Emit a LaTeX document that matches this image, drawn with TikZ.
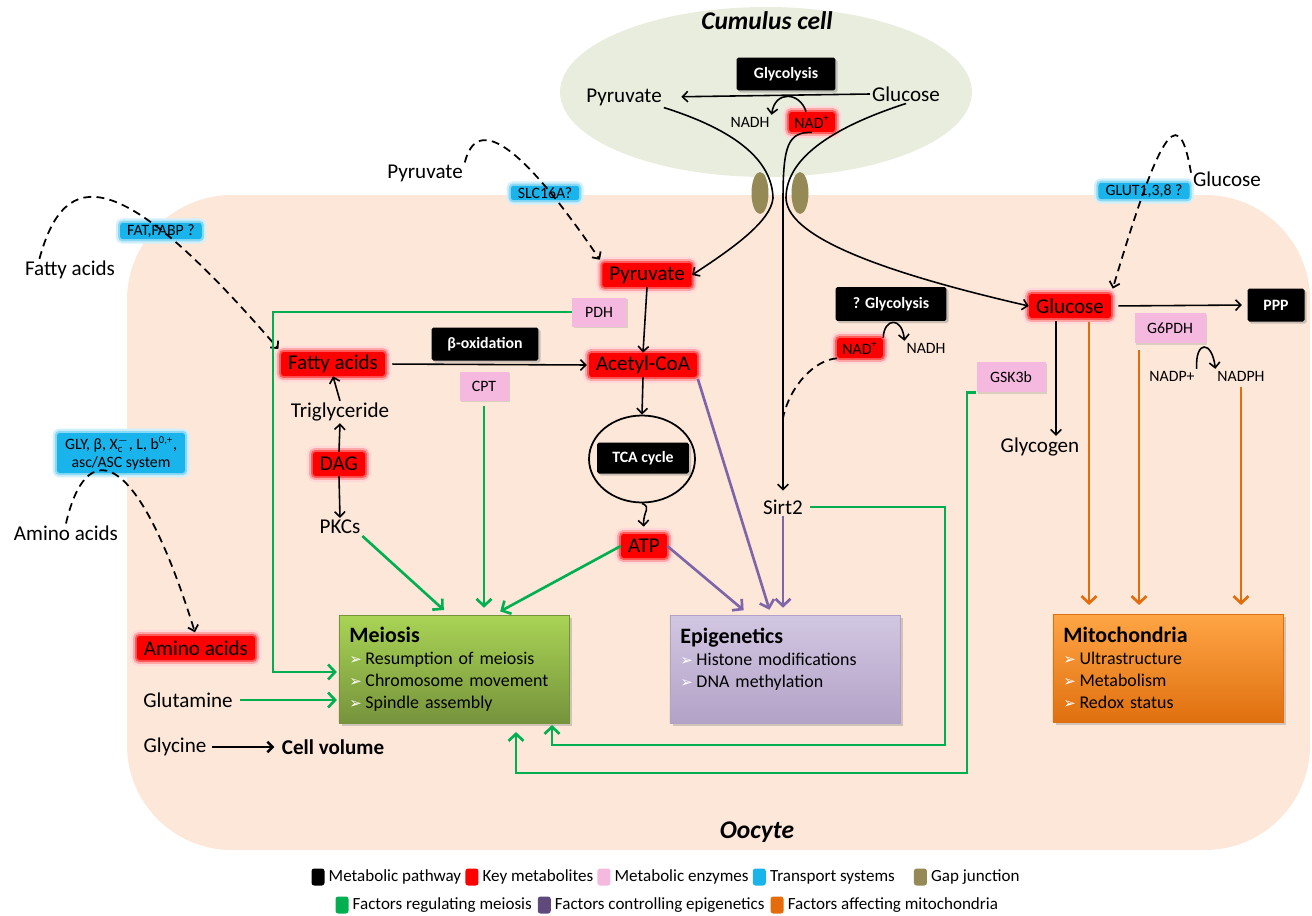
\documentclass[tikz,border=0pt]{standalone}
\usepackage{fontspec}
\setmainfont{Carlito}
\newfontfamily\dejavu{DejaVu Sans}
\usetikzlibrary{arrows.meta,calc,positioning,shapes.geometric,shadows}

\definecolor{cumulusbg}{HTML}{E9EDDD}
\definecolor{oocytebg}{HTML}{FCE7D8}
\definecolor{keyred}{HTML}{FF0000}
\definecolor{enzpink}{HTML}{F5B8DE}
\definecolor{transblue}{HTML}{19B4EC}
\definecolor{gapolive}{HTML}{958A55}
\definecolor{meiogreen}{HTML}{00B050}
\definecolor{epipurple}{HTML}{7E64A8}
\definecolor{legpurple}{HTML}{604A7B}
\definecolor{mitoorange}{HTML}{E46C0A}
\definecolor{meiotop}{HTML}{A9D455}
\definecolor{meiobot}{HTML}{76933C}
\definecolor{epitop}{HTML}{D2C7E2}
\definecolor{epibot}{HTML}{B3A2C7}
\definecolor{mitotop}{HTML}{FFA545}
\definecolor{mitobot}{HTML}{E0700F}

\newcommand{\itembul}{{\dejavu\color{white}\fontsize{8.5}{8.5}\selectfont ➢}\hspace{2pt}}

\begin{document}
\begin{tikzpicture}[x=0.02cm, y=-0.02cm,
  >={Straight Barb[length=3pt,width=6pt]},
  every node/.style={inner sep=1pt},
  bigtxt/.style={font=\fontsize{12}{14}\selectfont},
  smalltxt/.style={font=\fontsize{9}{10}\selectfont},
  metab/.style={fill=keyred, rounded corners=1.5pt, inner xsep=4pt, inner ysep=1.5pt,
    minimum height=0.48cm, font=\fontsize{12}{14}\selectfont,
    preaction={draw=keyred!15, line width=7pt},
    preaction={draw=keyred!35, line width=4.5pt},
    preaction={draw=keyred!65, line width=2.2pt}},
  metabsm/.style={metab, font=\fontsize{9}{10}\selectfont, minimum height=0.4cm, inner xsep=3pt},
  pathbox/.style={fill=black, text=white, font=\bfseries\fontsize{9}{10}\selectfont,
    rounded corners=1pt, minimum height=0.66cm,
    drop shadow={shadow xshift=1.2pt, shadow yshift=-1.2pt, opacity=0.4}},
  enzyme/.style={fill=enzpink, font=\fontsize{9}{10}\selectfont, minimum height=0.58cm,
    drop shadow={shadow xshift=1pt, shadow yshift=-1pt, opacity=0.25}},
  transport/.style={fill=transblue, font=\fontsize{9}{10}\selectfont, rounded corners=1.5pt,
    inner xsep=4pt, inner ysep=1pt,
    preaction={draw=transblue!20, line width=5pt},
    preaction={draw=transblue!50, line width=2.5pt}},
  gapjn/.style={ellipse, fill=gapolive, minimum width=0.34cm, minimum height=0.84cm, inner sep=0pt},
  flow/.style={->, line width=0.9pt},
  dashes/.style={line width=1pt, dash pattern=on 4.5pt off 3pt},
  uptake/.style={dashes, ->},
  colarrow/.style={->, >={Straight Barb[length=4pt,width=8.5pt]}, line width=1.5pt},
  meioline/.style={colarrow, meiogreen},
  epiline/.style={colarrow, epipurple},
  mitoline/.style={colarrow, mitoorange},
  effect/.style={line width=0.3pt, minimum width=4.6cm, minimum height=2.16cm, text width=119pt,
    inner xsep=6pt, align=left, font=\fontsize{10.2}{12.5}\selectfont,
    drop shadow={shadow xshift=1.5pt, shadow yshift=-1.5pt, opacity=0.35}},
  legsq/.style={minimum width=0.26cm, minimum height=0.34cm, inner sep=0pt, rounded corners=1.5pt},
  legtx/.style={font=\fontsize{9.7}{11}\selectfont, inner sep=0.5pt}
  ]
\useasboundingbox (0,0) rectangle (1312,916);

% cells
\fill[cumulusbg] (766,92) ellipse [x radius=4.12cm, y radius=1.7cm];
\fill[oocytebg, rounded corners=2.1cm] (127,195) rectangle (1310,850);

\node[font=\bfseries\itshape\fontsize{14.5}{16}\selectfont] (cumtitle) at (767,21) {Cumulus cell};
\node[font=\bfseries\itshape\fontsize{14.5}{16}\selectfont] (ootitle) at (757,832) {Oocyte};

% cumulus cell
\node[pathbox, minimum width=1.98cm] (cglyc) at (786,74) {Glycolysis};
\node[bigtxt] (cpyr) at (624,97) {Pyruvate};
\node[bigtxt] (cglc) at (906,94) {Glucose};
\node[smalltxt] (cnadh) at (750,122) {NADH};
\node[metabsm] (cnad) at (812,122) {NAD\textsuperscript{+}};
\node[gapjn] (gj1) at (760,193) {};
\node[gapjn] (gj2) at (800,193) {};

% outside and transporters
\node[bigtxt] (xpyr) at (425,173) {Pyruvate};
\node[transport] (slc) at (545,193) {SLC16A?};
\node[bigtxt] (xfa) at (70,270) {Fatty acids};
\node[transport] (fat) at (161,231) {FAT,FABP ?};
\node[bigtxt] (xglc) at (1227,179) {Glucose};
\node[transport] (glut) at (1144,191) {GLUT1,3,8 ?};
\node[bigtxt] (xaa) at (66,533) {Amino acids};
\node[transport, align=center, minimum width=2.56cm, minimum height=0.8cm] (aat) at (121,453)
  {GLY, β, $\mathrm{X}_\mathrm{c}^{-}$, L, b\textsuperscript{0,+},\\ asc/ASC system};

% oocyte
\node[metab] (opyr) at (647,275) {Pyruvate};
\node[enzyme, minimum width=1.08cm] (pdh) at (599,312) {PDH};
\node[metab] (acoa) at (643,365) {Acetyl-CoA};
\node[pathbox, minimum width=2.14cm] (boxid) at (485,344) {β-oxidation};
\node[metab] (ofa) at (333,364) {Fatty acids};
\node[enzyme, minimum width=0.98cm] (cpt) at (484,386) {CPT};
\node[bigtxt] (tg) at (340,412) {Triglyceride};
\node[metab] (dag) at (339,464) {DAG};
\node[bigtxt] (pkc) at (340,527) {PKCs};
\node[ellipse, draw, line width=1pt, minimum width=2.12cm, minimum height=1.74cm] (tca) at (642,459) {};
\node[pathbox, minimum width=1.84cm, minimum height=0.62cm] (tcab) at (643,458) {TCA cycle};
\node[metab] (atp) at (644,546) {ATP};
\node[bigtxt] (sirt2) at (783,507) {Sirt2};
\node[pathbox, minimum width=2.22cm, minimum height=0.68cm] (glyq) at (891,304) {? Glycolysis};
\node[metabsm] (onad) at (860,348) {NAD\textsuperscript{+}};
\node[smalltxt] (onadh) at (926,348) {NADH};
\node[metab] (oglc) at (1070,306) {Glucose};
\node[pathbox, minimum width=1.14cm] (ppp) at (1276,305) {PPP};
\node[enzyme, minimum width=1.42cm, minimum height=0.6cm] (g6pdh) at (1170,328) {G6PDH};
\node[smalltxt] (nadp) at (1172,376) {NADP+};
\node[smalltxt] (nadph) at (1241,376) {NADPH};
\node[enzyme, minimum width=1.38cm, minimum height=0.6cm] (gsk) at (1011,377) {GSK3b};
\node[bigtxt] (glycogen) at (1040,447) {Glycogen};
\node[metab] (oaa) at (196,648) {Amino acids};
\node[bigtxt] (gln) at (188,700) {Glutamine};
\node[bigtxt] (gly) at (175,747) {Glycine};
\node[bigtxt, font=\bfseries\fontsize{12}{14}\selectfont] (cv) at (333,747) {Cell volume};

% target boxes
\node[effect, top color=meiotop, bottom color=meiobot, draw=meiobot] (meio) at (454,669)
  {{\fontsize{12.5}{14}\selectfont\bfseries Meiosis}\\
   \itembul Resumption of meiosis\\ \itembul Chromosome movement\\ \itembul Spindle assembly};
\node[effect, top color=epitop, bottom color=epibot, draw=epibot] (epi) at (785,669)
  {{\fontsize{12.5}{14}\selectfont\bfseries Epigenetics}\\
   \itembul Histone modifications\\ \itembul DNA methylation\\ \mbox{}};
\node[effect, top color=mitotop, bottom color=mitobot, draw=mitobot] (mito) at (1168,668)
  {{\fontsize{12.5}{14}\selectfont\bfseries Mitochondria}\\
   \itembul Ultrastructure\\ \itembul Metabolism\\ \itembul Redox status};

% cumulus glycolysis and gap junction transfer
\coordinate (gjl) at (773,198);
\coordinate (gjr) at (786,198);
\coordinate (nadtop) at (783,200);
\draw[flow, shorten >=10pt] (cglc.west) -- (cpyr.east);
\draw[flow] (cnad.120) .. controls (800,92) and (775,90) .. (cnadh.north east);
\draw[flow] (cpyr.south east) .. controls (735,130) and (772,160) .. (gjl)
  .. controls (771,222) and (730,250) .. (opyr.east);
\draw[flow] (cglc.south) .. controls (818,132) and (786,165) .. (gjr)
  .. controls (787,230) and (850,265) .. (oglc.west);
\draw[flow, shorten >=4pt] (cnad.south) .. controls (788,132) and (783,145) .. (nadtop) -- (sirt2.north);

% uptake
\draw[uptake, shorten >=2pt] (xpyr.north east) .. controls (476,118) and (515,135) .. (opyr.north west);
\draw[uptake, shorten >=2pt] (xfa.160) .. controls (65,165) and (120,165) .. (ofa.north west);
\draw[uptake, shorten >=3pt] (xglc.170) .. controls (1180,110) and (1165,112) .. (oglc.north east);
\draw[uptake, shorten >=2pt] (xaa.north) .. controls (85,440) and (135,440) .. (oaa.north);

% oocyte metabolism
\draw[flow] (opyr.south) -- (acoa.north);
\draw[flow, shorten <=4pt, shorten >=1pt] (ofa.east) -- (acoa.west);
\draw[flow] (tg.north) -- (ofa.south);
\draw[flow] (dag.north) -- (tg.south);
\draw[flow] (dag.south) -- (pkc.north);
\draw[flow] (acoa.south) -- (tca.north);
\draw[flow, shorten >=4pt] (tca.south) .. controls (652,508) and (643,510) .. (atp.north);
\draw[flow] (onad.north east) .. controls (884,318) and (902,316) .. (onadh.north west);
\coordinate (nadj) at (783,418);
\draw[dashes] (onad.south west) .. controls (815,360) and (790,385) .. (nadj);
\draw[flow, shorten <=4pt, shorten >=3pt] (oglc.east) -- (ppp.west);
\draw[flow] (nadp.north east) .. controls (1195,340) and (1212,340) .. (nadph.north west);
\coordinate (glyc0) at ($(oglc.south)+(-14,3)$);
\draw[flow] (glyc0) -- (glyc0 |- glycogen.north);

% regulation of meiosis
\coordinate (pdhbend) at (273,672);
\draw[meioline, shorten >=1pt] (pdh.west) -| (pdhbend) -- (pdhbend -| meio.west);
\draw[meioline, shorten <=3pt, shorten >=1pt] (gln.east) -- (gln.east -| meio.west);
\draw[->, line width=1.5pt, shorten <=2pt, shorten >=3pt] (gly.east) -- (cv.west);
\draw[meioline, shorten <=3pt, shorten >=4pt] (cpt.south) -- (cpt.south |- meio.north);
\draw[meioline, shorten >=4pt] (pkc.south east) -- ($(meio.north)+(-5,0)$);
\draw[meioline, shorten >=4pt] (atp.west) -- ($(meio.north)+(40,0)$);
\coordinate (sirtbend) at (945,745);
\draw[meioline, shorten <=3pt, shorten >=1pt] (sirt2.east) -| (sirtbend) -| ($(meio.south)+(98,0)$);
\coordinate (gskbend) at (967,773);
\draw[meioline, shorten >=5pt] (gsk.south west) -| (gskbend) -| ($(meio.south)+(62,0)$);

% epigenetics
\draw[epiline, shorten >=4pt] (atp.east) -- ($(epi.north)+(-36,0)$);
\draw[epiline, shorten <=1pt, shorten >=3pt] (acoa.south east) -- ($(epi.north)+(-14,0)$);
\draw[epiline, shorten >=4pt] (sirt2.south) -- (sirt2.south |- epi.north);

% mitochondria
\coordinate (or1) at ($(oglc.south)+(19,4)$);
\coordinate (or2) at ($(g6pdh.south)+(-31,7)$);
\draw[mitoline, shorten >=5pt] (or1) -- (or1 |- mito.north);
\draw[mitoline, shorten >=5pt] (or2) -- (or2 |- mito.north);
\draw[mitoline, shorten <=2pt, shorten >=5pt] (nadph.south) -- (nadph.south |- mito.north);

% legend
\node[legsq, fill=black] (lgblack) at (318,877) {};
\node[legtx, right=1.5pt of lgblack] (ltblack) {Metabolic pathway};
\node[legsq, fill=keyred, right=1.5pt of ltblack] (lgred) {};
\node[legtx, right=1.5pt of lgred] (ltred) {Key metabolites};
\node[legsq, fill=enzpink, right=1.5pt of ltred] (lgpink) {};
\node[legtx, right=1.5pt of lgpink] (ltpink) {Metabolic enzymes};
\node[legsq, fill=transblue, right=1.5pt of ltpink] (lgblue) {};
\node[legtx, right=1.5pt of lgblue] (ltblue) {Transport systems};
\node[legsq, fill=gapolive, right=10pt of ltblue] (lgolive) {};
\node[legtx, right=1.5pt of lgolive] (ltolive) {Gap junction};
\node[legsq, fill=meiogreen] (lggreen) at (342,905) {};
\node[legtx, right=1.5pt of lggreen] (ltgreen) {Factors regulating meiosis};
\node[legsq, fill=legpurple, right=2.5pt of ltgreen] (lgpurple) {};
\node[legtx, right=1.5pt of lgpurple] (ltpurple) {Factors controlling epigenetics};
\node[legsq, fill=mitoorange, right=2.5pt of ltpurple] (lgorange) {};
\node[legtx, right=1.5pt of lgorange] (ltorange) {Factors affecting mitochondria};

\end{tikzpicture}
\end{document}
